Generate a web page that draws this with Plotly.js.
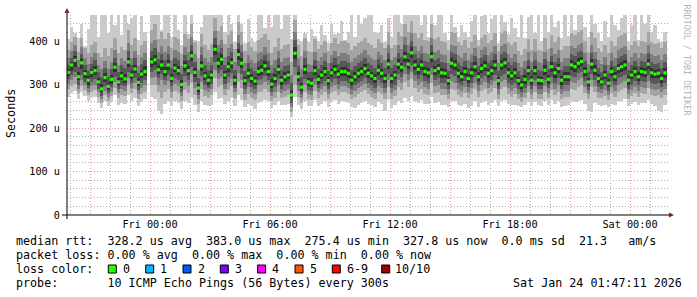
<!DOCTYPE html>
<html><head><meta charset="utf-8">
<script src="https://cdn.plot.ly/plotly-3.0.1.min.js"></script>
<style>html,body{margin:0;padding:0;background:#fff}#chart{width:697px;height:297px}</style>
</head><body><div id="chart"></div>
<script>
// ---- time grid (10-minute steps starting Thu 2026-01-22 19:50) ----
const startTime = Date.UTC(2026, 0, 22, 19, 50);
const stepMinutes = 10;

// ---- median rtt (microseconds) ----
const median = [
328,345,356,318,350,325,310,328,332,306,290,316,296,312,340,
306,320,313,352,322,336,305,324,330,null,352,357,334,345,330,
345,314,338,332,300,343,332,366,328,292,343,320,310,322,381,
349,358,322,341,350,310,369,349,309,326,314,308,330,333,343,
330,301,314,335,310,318,322,276,372,318,294,335,306,303,332,
312,322,330,309,327,335,324,330,330,326,310,318,326,330,337,
326,320,314,333,326,314,347,314,322,347,340,364,347,373,345,
335,345,330,327,364,332,337,327,326,309,349,345,326,318,330,
314,327,341,318,337,343,326,332,345,309,345,350,327,320,327,
309,299,312,332,310,332,310,309,333,312,341,327,337,310,318,
318,345,341,349,353,330,306,347,333,314,306,322,303,330,318,
337,341,345,310,322,330,318,330,328,347,327,324,326,314,327];

// ---- sorted pings (smoke), microseconds ----
const ping1 = [
272,280,286,266,282,274,262,270,272,258,246,262,250,260,276,
252,258,256,276,262,270,250,260,266,null,272,266,240,232,255,
262,250,262,258,244,262,258,270,252,238,262,252,250,254,282,
266,270,256,262,268,250,276,264,248,256,250,244,258,260,264,
262,246,254,262,252,254,256,226,272,254,244,262,250,250,264,
250,256,262,248,260,264,256,262,260,258,248,246,254,258,262,
256,252,248,260,256,240,264,246,252,262,258,270,262,274,262,
258,264,256,256,272,258,260,254,252,248,262,262,254,250,256,
246,250,262,248,258,262,254,258,264,250,262,264,256,252,254,
250,248,252,260,250,260,252,250,262,252,264,256,262,248,250,
252,262,260,262,264,256,240,236,258,252,250,254,248,256,252,
262,262,266,250,256,260,254,258,258,264,256,250,240,238,254];
const ping2 = [
290,296,302,280,296,288,276,284,288,272,258,276,262,274,292,
268,276,274,298,280,290,266,278,284,null,298,298,284,270,282,
290,270,286,280,262,288,280,304,276,256,290,274,270,276,314,
294,300,276,288,296,268,306,292,264,278,268,264,282,284,290,
284,262,270,282,268,272,276,238,300,272,258,282,266,264,286,
268,276,282,266,280,286,276,282,282,278,266,272,278,282,288,
278,272,266,282,278,266,294,266,274,294,288,306,294,312,292,
282,290,278,276,304,280,284,276,276,266,290,288,276,272,280,
268,278,290,272,286,290,278,284,292,266,290,294,278,272,278,
266,260,268,282,266,282,266,266,282,268,288,276,284,266,272,
272,290,288,294,298,280,266,294,282,270,268,274,264,280,272,
284,288,292,266,274,280,272,280,278,292,276,274,276,268,276];
const ping3 = [
302,310,318,290,310,298,284,296,300,282,266,286,272,284,306,
280,290,286,314,292,304,278,292,298,null,316,318,300,310,298,
308,284,302,296,274,306,296,324,292,266,306,288,282,290,334,
312,318,290,304,312,282,326,310,278,294,282,278,298,300,306,
298,274,282,298,280,286,290,248,322,286,268,298,278,276,300,
282,290,296,278,294,300,290,296,296,292,278,286,292,296,302,
292,286,280,296,292,280,310,280,288,310,304,324,310,330,308,
298,306,294,290,322,296,300,290,290,278,308,304,290,286,294,
282,292,304,286,300,306,292,298,308,278,306,310,292,286,292,
278,272,280,296,278,296,278,278,296,280,302,290,300,278,286,
286,306,304,310,314,294,278,310,296,282,280,288,276,294,286,
300,304,308,278,288,294,286,294,292,308,290,288,290,282,290];
const ping4 = [
312,322,328,300,322,306,292,306,312,290,274,296,280,294,318,
290,300,296,328,304,316,288,304,310,null,330,334,314,324,310,
322,296,316,310,284,320,310,340,306,276,320,300,292,302,352,
326,334,302,318,326,292,342,324,290,306,294,290,310,312,320,
310,284,294,312,290,298,302,258,340,298,278,312,288,286,312,
292,302,308,290,306,312,302,308,308,304,290,298,304,308,314,
304,298,292,310,304,292,324,292,300,324,318,340,324,346,322,
312,322,308,304,338,310,314,304,304,290,324,320,304,298,308,
294,304,318,298,314,320,304,310,322,290,320,324,304,298,304,
290,282,292,310,290,310,290,290,310,292,318,304,314,290,298,
298,320,318,326,330,308,288,324,310,294,290,300,286,308,298,
314,318,322,290,300,308,298,308,306,322,304,302,304,294,304];
const ping5 = [
320,332,340,310,336,316,300,318,322,298,282,305,288,302,328,
298,310,304,340,312,326,296,314,320,null,340,346,324,334,320,
334,306,328,322,292,332,322,354,318,284,332,310,300,312,368,
338,346,312,330,338,300,356,338,300,316,304,298,320,322,332,
320,292,304,324,300,308,312,268,358,308,286,324,296,294,322,
302,312,320,300,318,324,314,320,320,316,300,308,316,320,326,
316,310,304,322,316,304,336,304,312,336,330,352,336,360,334,
324,334,320,316,352,322,326,316,316,300,338,334,316,308,320,
304,316,330,308,326,332,316,322,334,300,334,338,316,310,316,
300,290,302,322,300,322,300,300,322,302,330,316,326,300,308,
308,334,330,338,342,320,296,336,322,304,298,312,294,320,308,
326,330,334,300,312,320,308,320,318,336,316,314,316,304,316];
const ping6 = [
336,352,366,328,358,334,320,336,342,316,302,326,306,322,350,
316,330,324,362,332,346,314,334,342,null,362,368,344,356,340,
356,324,348,342,310,354,342,378,338,302,354,330,320,332,392,
360,370,332,352,362,320,382,360,318,336,324,318,340,344,354,
340,312,324,346,320,328,332,288,386,328,304,346,316,314,342,
322,332,340,318,336,346,334,340,340,336,320,328,336,340,348,
336,330,324,344,336,324,358,324,332,358,350,376,358,386,356,
346,356,340,338,376,342,348,338,336,318,360,356,336,328,340,
324,338,352,328,348,354,336,342,356,318,356,362,338,330,338,
318,308,322,342,320,342,320,318,344,322,352,338,348,320,328,
328,356,352,360,364,340,316,358,344,324,316,332,312,340,328,
348,352,356,320,332,340,328,340,338,358,338,334,336,324,338];
const ping7 = [
346,362,378,340,370,346,332,348,356,328,318,338,318,336,362,
328,344,338,378,346,360,326,348,356,null,378,384,358,370,356,
370,338,362,356,324,368,356,392,352,316,368,344,334,346,406,
374,384,346,366,376,334,396,374,332,350,338,332,354,358,368,
354,326,338,360,334,342,346,304,402,342,318,360,330,328,356,
336,346,354,332,350,360,348,354,354,350,334,342,350,354,362,
350,344,338,358,350,338,372,338,346,372,364,390,372,400,370,
360,370,354,352,390,356,362,352,350,332,374,370,350,342,354,
338,352,366,342,362,368,350,356,370,332,370,376,352,344,352,
332,322,336,356,334,356,334,332,358,336,366,352,362,334,342,
342,370,366,374,378,354,330,372,358,338,330,346,326,354,342,
362,366,370,334,346,354,342,354,352,372,352,348,350,338,352];
const ping8 = [
360,378,392,356,386,360,348,364,372,344,336,354,336,352,380,
346,360,354,396,362,378,342,364,372,null,396,402,376,388,374,
388,356,380,374,342,386,374,410,370,334,386,362,352,364,424,
392,402,364,384,394,352,414,392,350,368,356,350,372,376,386,
372,344,356,378,352,360,364,322,420,360,336,378,348,346,374,
354,364,372,350,368,378,366,372,372,368,352,360,368,372,380,
368,362,356,376,368,356,390,356,364,390,382,410,390,418,388,
378,388,372,370,408,374,380,370,368,350,392,388,368,360,372,
356,370,384,360,380,386,368,374,388,350,388,394,370,362,370,
350,340,354,374,352,374,352,350,376,354,384,370,380,352,360,
360,388,384,392,396,372,348,390,376,356,348,364,344,372,360,
380,384,388,352,364,372,360,372,370,390,370,366,368,356,370];
const ping9 = [
380,398,410,376,406,384,372,392,398,372,364,384,366,384,408,
372,386,380,426,390,408,368,392,400,null,426,440,404,420,404,
418,384,410,404,370,416,404,440,398,362,416,392,380,394,452,
424,434,394,414,424,382,444,420,378,398,386,378,402,406,416,
402,372,386,408,382,390,394,352,448,390,366,408,378,376,404,
382,392,400,378,396,406,394,400,400,396,380,388,396,400,408,
396,390,384,404,396,384,420,384,392,420,412,440,420,446,418,
408,418,402,400,440,404,410,400,398,380,422,418,398,390,402,
384,398,414,388,408,414,396,402,418,378,418,424,398,390,398,
378,368,382,404,380,404,380,378,406,382,414,398,410,380,388,
388,418,414,422,426,400,376,420,406,384,376,392,372,400,388,
410,414,418,380,392,400,388,400,398,420,398,394,396,384,398];
const ping10 = [
405,432,418,408,440,388,428,470,462,410,470,470,418,472,436,
470,415,470,440,452,470,402,458,420,null,470,470,470,426,470,
470,410,470,425,392,470,416,470,402,400,432,470,470,470,470,
470,470,422,470,440,398,470,440,396,450,406,398,470,470,430,
470,432,470,470,428,470,466,405,470,404,400,418,398,428,412,
400,436,414,396,440,416,418,446,402,420,470,410,470,440,452,
470,470,420,418,438,398,452,410,470,470,440,470,470,470,470,
470,438,470,410,470,436,470,470,418,402,470,432,410,436,420,
410,446,470,402,458,470,418,450,470,396,470,444,416,452,430,
410,470,406,456,470,418,470,400,470,422,470,432,446,408,470,
412,470,426,470,470,432,410,470,440,418,400,446,410,470,436,
426,452,470,400,436,470,402,470,440,470,420,438,404,398,420];

// ---- axis labels ----
const yTickValues = [0, 100, 200, 300, 400];
const yTickLabels = ['0', '100 u', '200 u', '300 u', '400 u'];
const xMajorTicks = ['2026-01-22 21:00','2026-01-23 00:00','2026-01-23 03:00','2026-01-23 06:00','2026-01-23 09:00','2026-01-23 12:00','2026-01-23 15:00','2026-01-23 18:00','2026-01-23 21:00','2026-01-24 00:00'];
const xTickLabels = ['', 'Fri 00:00', '', 'Fri 06:00', '', 'Fri 12:00', '', 'Fri 18:00', '', 'Sat 00:00'];

// ---- legend texts ----
const statsLine = 'median rtt:  328.2 us avg  383.0 us max  275.4 us min  327.8 us now  0.0 ms sd  21.3   am/s';
const lossLine = 'packet loss: 0.00 % avg  0.00 % max  0.00 % min  0.00 % now';
const lossLabels = ['0', '1', '2', '3', '4', '5', '6-9', '10/10'];
const lossColors = ['#26ff00', '#00b8ff', '#0059ff', '#7e00ff', '#ff00ff', '#ff5500', '#ff0000', '#a10000'];
const probeLine = 'probe:       10 ICMP Echo Pings (56 Bytes) every 300s';
const stampText = 'Sat Jan 24 01:47:11 2026';

// ---------------------------------------------------------------
const W = 697, H = 297, L = 67, R = 668, T = 15, B = 215;
const px = v => (v - L) / (R - L);
const py = v => (B - v) / (B - T);
const nb = s => s.replace(/ /g, '\u00a0');
const stepMs = stepMinutes * 60000;
const times = median.map((_, i) => startTime + (i + 0.5) * stepMs);

const pings = [ping1, ping2, ping3, ping4, ping5, ping6, ping7, ping8, ping9, ping10];
const smokeColors = ['#cacaca', '#a4a4a4', '#7e7e7e', '#585858', '#323232'];
const traces = [];
for (let k = 0; k < 5; k++) {
  const lo = pings[k], hi = pings[9 - k];
  traces.push({
    type: 'bar', x: times, base: lo,
    y: lo.map((v, i) => (v == null || hi[i] == null) ? null : hi[i] - v),
    width: stepMs, marker: {color: smokeColors[k], line: {width: 0}},
    hoverinfo: 'skip', showlegend: false
  });
}
traces.push({
  type: 'scatter', mode: 'markers', x: times, y: median,
  marker: {symbol: 'square', size: 3.2, color: lossColors[0], line: {width: 0}},
  hoverinfo: 'skip', showlegend: false
});

const hourly = [];
for (let h = 20; h <= 24 + 24 + 1; h++) {
  hourly.push(Date.UTC(2026, 0, 22, h));
}

const mono = 'DejaVu Sans Mono, monospace';
const ann = [];
function text(t, x, y, size, opts) {
  ann.push(Object.assign({
    text: nb(t), xref: 'paper', yref: 'paper', x: px(x), y: py(y),
    xanchor: 'left', yanchor: 'middle', showarrow: false,
    font: {family: mono, size: size, color: '#000'}, borderpad: 0, borderwidth: 0
  }, opts || {}));
}
const fs = 11.7;
text(statsLine, 15.5, 241, fs);
text(lossLine, 15.5, 255, fs);
text('loss color:', 15.5, 269, fs);
text(probeLine, 15.5, 283, fs);
text(stampText, 681.5, 283, fs, {xanchor: 'right'});
text('Seconds', 10.5, 113.5, fs, {xanchor: 'center', textangle: -90});
text('RRDTOOL / TOBI OETIKER', 686.5, 60, 8.4, {xanchor: 'center', textangle: 90, font: {family: mono, size: 8.4, color: '#b4b4b4'}});

const shapes = [];
const boxX = [108.3, 145.7, 183, 220.3, 257.6, 295, 332.3, 381.7];
boxX.forEach((bx, i) => {
  shapes.push({type: 'rect', xref: 'paper', yref: 'paper',
    x0: px(bx), x1: px(bx + 8), y0: py(273), y1: py(265),
    fillcolor: lossColors[i], line: {color: '#000', width: 1}});
  text(lossLabels[i], bx + (i === 7 ? 13 : 14.5), 269, fs);
});
// axis lines and arrows
shapes.push({type: 'line', xref: 'paper', yref: 'paper', x0: px(67), x1: px(67), y0: py(219), y1: py(12), line: {color: '#000', width: 1}});
shapes.push({type: 'line', xref: 'paper', yref: 'paper', x0: px(62), x1: px(670), y0: py(215), y1: py(215), line: {color: '#000', width: 1}});
shapes.push({type: 'path', xref: 'paper', yref: 'paper', fillcolor: '#8b1a1a', line: {width: 0},
  path: `M ${px(64.5)} ${py(13)} L ${px(69.5)} ${py(13)} L ${px(67)} ${py(8)} Z`});
shapes.push({type: 'path', xref: 'paper', yref: 'paper', fillcolor: '#8b1a1a', line: {width: 0},
  path: `M ${px(669)} ${py(212.5)} L ${px(669)} ${py(217.5)} L ${px(674)} ${py(215)} Z`});

const layout = {
  width: W, height: H,
  margin: {l: L, r: W - R, t: T, b: H - B, pad: 0},
  paper_bgcolor: '#fff', plot_bgcolor: '#fff',
  barmode: 'overlay', bargap: 0, showlegend: false,
  xaxis: {
    type: 'date', range: ['2026-01-22 19:51', '2026-01-24 01:54'],
    tickmode: 'array', tickvals: xMajorTicks, ticktext: xTickLabels,
    ticks: '', showline: false, zeroline: false,
    showgrid: true, gridcolor: '#eb9595', griddash: '1px,2px', gridwidth: 1,
    minor: {tickmode: 'array', tickvals: hourly, showgrid: true, gridcolor: '#b0b0b0', griddash: '1px,2px', gridwidth: 1, ticks: ''},
    tickfont: {family: mono, size: 10.2, color: '#000'},
    ticklabelstandoff: 2, fixedrange: true
  },
  yaxis: {
    range: [0, 460], tickmode: 'array', tickvals: yTickValues, ticktext: yTickLabels,
    ticks: '', showline: false, zeroline: false,
    showgrid: true, gridcolor: '#eb9595', griddash: '1px,2px', gridwidth: 1,
    minor: {dtick: 20, tick0: 0, showgrid: true, gridcolor: '#b0b0b0', griddash: '1px,2px', gridwidth: 1, ticks: ''},
    tickfont: {family: mono, size: 10.2, color: '#000'},
    ticklabelstandoff: 6, fixedrange: true
  },
  annotations: ann, shapes: shapes
};
Plotly.newPlot('chart', traces, layout, {staticPlot: true, displayModeBar: false});
</script></body></html>
